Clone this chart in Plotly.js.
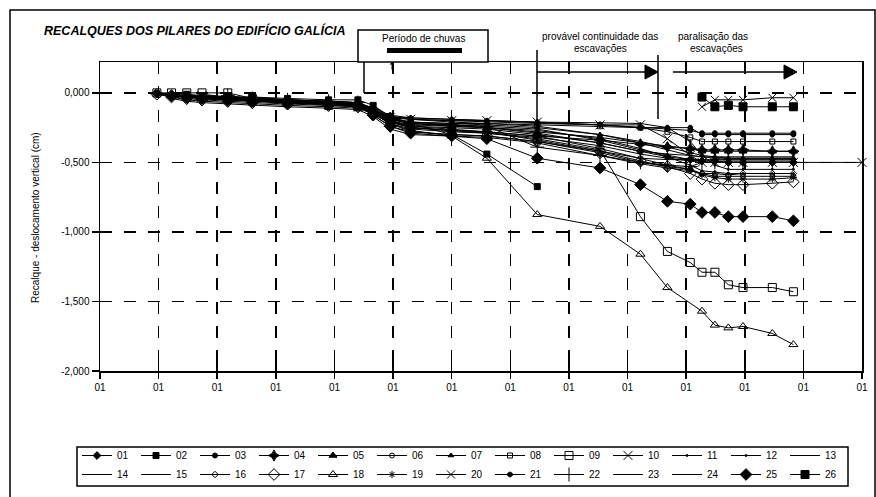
<!DOCTYPE html>
<html>
<head>
<meta charset="utf-8">
<script src="https://cdn.plot.ly/plotly-3.0.1.min.js"></script>
<style>html,body{margin:0;padding:0;background:#fff;}#chart{width:876px;height:497px;}</style>
</head>
<body>
<div id="chart"></div>
<script>
// ---- data (x = date position in months from axis start; y = settlement in cm) ----
const xDates = [0.97,1.22,1.48,1.74,2.18,2.6,3.2,3.9,4.4,4.66,4.95,5.3,6.0,6.6,7.46,8.53,9.22,9.68,10.07,10.27,10.49,10.72,10.97,11.47,11.83,13.0];
const xTickVals = [0,1,2,3,4,5,6,7,8,9,10,11,12,13];
const xTickText = ["01","01","01","01","01","01","01","01","01","01","01","01","01","01"];
const yTickVals = [0,-0.5,-1,-1.5,-2];
const yTickText = ["0,000","-0,500","-1,000","-1,500","-2,000"];
const seriesNames = ["01","02","03","04","05","06","07","08","09","10","11","12","13","14","15","16","17","18","19","20","21","22","23","24","25","26"];

const s01 = [-0.01,-0.02,-0.03,-0.03,-0.04,-0.05,-0.06,-0.07,-0.08,-0.14,-0.20,-0.24,-0.25,-0.26,-0.30,-0.36,-0.42,-0.46,-0.48,-0.49,-0.49,-0.50,-0.50,-0.50,-0.50,null];
const s02 = [null,null,-0.01,-0.02,-0.03,-0.03,-0.04,-0.05,-0.05,-0.09,-0.17,-0.22,-0.30,-0.44,-0.674,null,null,null,null,null,null,null,null,null,null,null];
const s03 = [0,-0.01,-0.02,-0.02,-0.03,-0.04,-0.05,-0.06,-0.07,-0.11,-0.17,-0.19,-0.20,-0.21,-0.22,-0.23,-0.25,-0.26,-0.27,-0.29,-0.29,-0.29,-0.29,-0.29,-0.29,null];
const s04 = [null,-0.02,-0.03,-0.04,-0.05,-0.06,-0.07,-0.08,-0.09,-0.15,-0.21,-0.25,-0.27,-0.28,-0.31,-0.34,-0.37,-0.39,-0.40,-0.41,-0.41,-0.41,-0.41,-0.42,-0.42,null];
const s05 = [null,null,-0.02,-0.03,-0.04,-0.05,-0.06,-0.07,-0.08,-0.13,-0.19,-0.22,-0.24,-0.25,-0.28,-0.32,-0.36,-0.38,-0.40,-0.42,-0.42,-0.42,-0.42,-0.42,-0.42,null];
const s06 = [null,-0.03,-0.05,-0.06,-0.07,-0.08,-0.09,-0.10,-0.11,-0.15,-0.22,-0.28,-0.30,-0.31,-0.35,-0.43,-0.50,-0.53,-0.55,-0.58,-0.60,-0.60,-0.60,-0.60,-0.60,null];
const s07 = [0,-0.01,-0.02,-0.03,-0.04,-0.05,-0.06,-0.07,-0.08,-0.12,-0.18,-0.21,-0.22,-0.23,-0.25,-0.30,-0.35,-0.39,-0.43,-0.45,-0.46,-0.47,-0.47,-0.47,-0.47,null];
const s08 = [0,-0.02,-0.03,-0.04,-0.05,-0.06,-0.07,-0.08,-0.09,-0.13,-0.19,-0.21,-0.22,-0.22,-0.23,-0.24,-0.25,-0.28,-0.32,-0.35,-0.35,-0.35,-0.35,-0.35,-0.35,null];
const s09 = [0,0,0,0,0,-0.04,-0.07,-0.09,-0.10,-0.14,-0.20,-0.25,-0.27,-0.29,-0.33,-0.41,-0.89,-1.14,-1.22,-1.29,-1.29,-1.38,-1.40,-1.40,-1.43,null];
const s10 = [null,null,null,-0.02,-0.04,-0.06,-0.07,-0.08,-0.10,-0.14,-0.18,-0.19,-0.20,-0.20,-0.21,-0.23,-0.23,-0.33,-0.45,-0.50,-0.50,-0.50,-0.50,-0.50,-0.50,-0.50];
const s11 = [-0.01,-0.02,-0.03,-0.04,-0.05,-0.06,-0.07,-0.08,-0.09,-0.13,-0.17,-0.18,-0.19,-0.20,-0.21,-0.215,-0.22,-0.25,-0.35,-0.45,-0.52,-0.55,-0.55,-0.55,-0.55,null];
const s12 = [null,-0.01,-0.02,-0.03,-0.04,-0.05,-0.06,-0.08,-0.09,-0.14,-0.20,-0.23,-0.24,-0.25,-0.27,-0.33,-0.40,-0.46,-0.52,-0.56,-0.57,-0.58,-0.58,-0.58,-0.58,null];
const s13 = [null,null,null,null,-0.03,-0.05,-0.06,-0.07,-0.08,-0.12,-0.17,-0.19,-0.21,-0.22,-0.24,-0.30,-0.36,-0.41,-0.45,-0.46,-0.47,-0.47,-0.47,-0.47,-0.47,null];
const s14 = [null,null,-0.02,-0.03,-0.04,-0.05,-0.06,-0.07,-0.09,-0.15,-0.22,-0.26,-0.28,-0.29,-0.32,-0.38,-0.44,-0.47,-0.49,-0.50,-0.50,-0.50,-0.50,-0.50,-0.50,null];
const s15 = [null,null,null,-0.02,-0.03,-0.05,-0.06,-0.07,-0.08,-0.13,-0.19,-0.22,-0.23,-0.24,-0.26,-0.34,-0.41,-0.45,-0.48,-0.49,-0.49,-0.49,-0.49,-0.49,-0.49,null];
const s16 = [null,-0.04,-0.06,-0.07,-0.08,-0.09,-0.10,-0.11,-0.12,-0.17,-0.26,-0.30,-0.31,-0.32,-0.36,-0.45,-0.51,-0.54,-0.56,-0.58,-0.58,-0.59,-0.58,-0.58,-0.58,null];
const s17 = [-0.01,-0.03,-0.04,-0.05,-0.06,-0.07,-0.08,-0.09,-0.10,-0.16,-0.24,-0.28,-0.30,-0.31,-0.35,-0.42,-0.49,-0.53,-0.58,-0.62,-0.65,-0.66,-0.66,-0.65,-0.64,null];
const s18 = [null,-0.02,-0.03,-0.04,-0.05,-0.06,-0.07,-0.08,-0.09,-0.15,-0.22,-0.27,-0.31,-0.47,-0.875,-0.96,-1.16,-1.40,null,-1.57,-1.67,-1.69,-1.68,-1.73,-1.81,null];
const s19 = [null,null,-0.02,-0.03,-0.04,-0.05,-0.06,-0.07,-0.08,-0.14,-0.21,-0.25,-0.27,-0.28,-0.31,-0.40,-0.47,-0.52,-0.55,-0.59,-0.61,-0.62,-0.62,-0.62,-0.61,null];
const s20 = [null,null,null,null,null,null,null,null,null,null,null,null,null,null,null,null,null,null,null,-0.10,-0.05,-0.05,-0.05,-0.035,-0.035,null];
const s21 = [0,-0.01,-0.02,-0.03,-0.04,-0.05,-0.05,-0.06,-0.07,-0.11,-0.16,-0.18,-0.19,-0.20,-0.21,-0.23,-0.25,-0.25,-0.25,-0.30,-0.30,-0.30,-0.30,-0.30,-0.30,null];
const s22 = [null,null,null,null,-0.02,-0.04,-0.05,-0.06,-0.07,-0.12,-0.19,-0.22,-0.23,-0.24,-0.39,-0.45,-0.50,-0.52,-0.53,-0.50,-0.50,-0.50,-0.50,-0.50,-0.50,null];
const s23 = [null,null,null,null,null,-0.03,-0.05,-0.06,-0.07,-0.12,-0.18,-0.21,-0.23,-0.25,-0.29,-0.36,-0.42,-0.44,-0.45,-0.46,-0.46,-0.46,-0.46,-0.46,-0.46,null];
const s24 = [null,null,null,-0.01,-0.03,-0.04,-0.06,-0.07,-0.08,-0.13,-0.20,-0.24,-0.26,-0.28,-0.34,-0.42,-0.47,-0.48,-0.48,-0.48,-0.48,-0.48,-0.48,-0.48,-0.48,null];
const s25 = [null,-0.02,-0.03,-0.04,-0.05,-0.06,-0.07,-0.08,-0.09,-0.16,-0.24,-0.29,-0.31,-0.33,-0.47,-0.54,-0.66,-0.78,-0.80,-0.86,-0.86,-0.89,-0.89,-0.89,-0.92,null];
const s26 = [null,null,null,null,null,null,null,null,null,null,null,null,null,null,null,null,null,null,null,-0.03,-0.10,-0.09,-0.10,-0.10,-0.10,null];

const seriesValues = [s01,s02,s03,s04,s05,s06,s07,s08,s09,s10,s11,s12,s13,s14,s15,s16,s17,s18,s19,s20,s21,s22,s23,s24,s25,s26];

// ---- styles ----
const markerStyles = [
  {symbol:'diamond', size:6},
  {symbol:'square', size:6},
  {symbol:'circle', size:5},
  {symbol:'star-diamond', size:8},
  {symbol:'triangle-up', size:7},
  {symbol:'circle-open', size:5},
  {symbol:'triangle-up', size:5},
  {symbol:'square-open', size:5},
  {symbol:'square-open', size:8},
  {symbol:'x-thin-open', size:9},
  {symbol:'circle', size:2},
  {symbol:'circle', size:2},
  null,
  null,
  null,
  {symbol:'diamond-open', size:5},
  {symbol:'diamond-open', size:9},
  {symbol:'triangle-up-open', size:8},
  {symbol:'asterisk-open', size:6},
  {symbol:'x-thin-open', size:8},
  {symbol:'octagon', size:5},
  {symbol:'cross-thin-open', size:10},
  null,
  null,
  {symbol:'diamond', size:9},
  {symbol:'square', size:8}
];

const X = px => (px - 100) / 762;
const Y = py => (371 - py) / 309;
const FONT = 'Liberation Sans, Arial, sans-serif';

const traces = seriesValues.map((vals, i) => {
  const ms = markerStyles[i];
  const t = {
    type:'scatter',
    x:xDates, y:vals,
    name:seriesNames[i],
    mode: ms ? 'lines+markers' : 'lines',
    connectgaps:true,
    line:{color:'#000', width:1},
    legend: i < 13 ? 'legend' : 'legend2',
    cliponaxis:false
  };
  if (ms) t.marker = {symbol:ms.symbol, size:ms.size, color:'#000', line:{color:'#000', width:1}};
  return t;
});
traces.push({type:'scatter', x:[], y:[], xaxis:'x2', yaxis:'y2', showlegend:false, hoverinfo:'skip'});

const shapes = [
  {type:'rect', xref:'paper', yref:'paper', x0:X(10), y0:Y(10), x1:X(875), y1:Y(505), line:{color:'#000', width:1.5}},
  {type:'rect', xref:'paper', yref:'paper', x0:X(358), y0:Y(30), x1:X(488), y1:Y(62), line:{color:'#000', width:1.5}, fillcolor:'#fff'},
  {type:'rect', xref:'paper', yref:'paper', x0:X(387), y0:Y(48), x1:X(462), y1:Y(53), line:{width:0}, fillcolor:'#000'},
  {type:'line', xref:'paper', yref:'paper', x0:X(364), y0:Y(62), x1:X(364), y1:Y(93), line:{color:'#000', width:1.5}},
  {type:'line', xref:'paper', yref:'paper', x0:X(537), y0:Y(50), x1:X(537), y1:Y(120), line:{color:'#000', width:1.5}},
  {type:'line', xref:'paper', yref:'paper', x0:X(658), y0:Y(55), x1:X(658), y1:Y(119), line:{color:'#000', width:1.5}},
  {type:'line', xref:'paper', yref:'paper', x0:X(537), y0:Y(72), x1:X(646), y1:Y(72), line:{color:'#000', width:1.5}},
  {type:'path', xref:'paper', yref:'paper', path:`M${X(645)},${Y(65)} L${X(658)},${Y(72)} L${X(645)},${Y(79)} Z`, fillcolor:'#000', line:{color:'#000', width:1}},
  {type:'line', xref:'paper', yref:'paper', x0:X(673), y0:Y(72), x1:X(785), y1:Y(72), line:{color:'#000', width:1.5}},
  {type:'path', xref:'paper', yref:'paper', path:`M${X(784)},${Y(65)} L${X(797)},${Y(72)} L${X(784)},${Y(79)} Z`, fillcolor:'#000', line:{color:'#000', width:1}},
  {type:'rect', xref:'paper', yref:'paper', x0:X(77), y0:Y(447), x1:X(848), y1:Y(486), line:{color:'#000', width:1.5}}
];

const txt = (x, y, text, size, anchor) => ({xref:'paper', yref:'paper', x:X(x), y:Y(y), text, showarrow:false, xanchor:anchor||'center', yanchor:'middle', font:{family:FONT, size:size, color:'#000'}});

const annotations = [
  txt(42, 31, '<b><i>RECALQUES DOS PILARES DO EDIFÍCIO GALÍCIA</i></b>', 12.5, 'left'),
  txt(423, 38, 'Período de chuvas', 10),
  txt(600, 37, 'provável continuidade das', 10),
  txt(600, 49, 'escavações', 10),
  txt(713, 37, 'paralisação das', 10),
  txt(716, 49, 'escavações', 10),
  {xref:'paper', yref:'paper', x:X(35), y:Y(218), text:'Recalque - deslocamento vertical (cm)', textangle:-90, showarrow:false, xanchor:'center', yanchor:'middle', font:{family:FONT, size:10, color:'#000'}},
  {xref:'paper', yref:'paper', x:X(392), y:Y(62), ax:0, ay:9, text:'', showarrow:true, arrowhead:1, arrowsize:0.8, arrowwidth:1, arrowcolor:'#000'}
];

const legendBase = {orientation:'h', xanchor:'left', yanchor:'top', bgcolor:'rgba(0,0,0,0)', borderwidth:0,
  font:{family:FONT, size:10, color:'#000'}, itemwidth:30, entrywidthmode:'pixels', entrywidth:14, tracegroupgap:0, itemclick:false};

const layout = {
  width:876, height:497,
  margin:{l:100, r:14, t:62, b:126, autoexpand:false},
  paper_bgcolor:'#fff', plot_bgcolor:'#fff',
  showlegend:true,
  font:{family:FONT, size:10, color:'#000'},
  xaxis:{range:[0,13], tickvals:xTickVals, ticktext:xTickText, ticks:'outside', ticklen:6, tickwidth:1.5, tickcolor:'#000',
    showline:true, linecolor:'#000', linewidth:1.5, mirror:true, showgrid:true, gridcolor:'#000', gridwidth:1.5, griddash:'12px,12px',
    zeroline:false, tickfont:{family:FONT, size:10, color:'#000'}, fixedrange:true},
  yaxis:{range:[-2,0.222], tickvals:yTickVals, ticktext:yTickText, ticks:'outside', ticklen:7, tickwidth:1.5, tickcolor:'#000',
    showline:true, linecolor:'#000', linewidth:1.5, mirror:true, showgrid:true, gridcolor:'#000', gridwidth:1.5, griddash:'12px,12px',
    zeroline:false, tickfont:{family:FONT, size:10, color:'#000'}, fixedrange:true},
  xaxis2:{overlaying:'x', anchor:'y', side:'bottom', range:[0,13], tickvals:xTickVals, ticks:'inside', ticklen:9, tickwidth:1.5, tickcolor:'#000', showticklabels:false, showgrid:false, showline:false, zeroline:false},
  yaxis2:{overlaying:'y', anchor:'x', side:'left', range:[-2,0.222], tickvals:yTickVals, ticks:'inside', ticklen:8, tickwidth:1.5, tickcolor:'#000', showticklabels:false, showgrid:false, showline:false, zeroline:false},
  legend:Object.assign({}, legendBase, {x:X(77), y:Y(441)}),
  legend2:Object.assign({}, legendBase, {x:X(77), y:Y(460)}),
  shapes, annotations
};

Plotly.newPlot('chart', traces, layout, {staticPlot:true, displayModeBar:false});
</script>
</body>
</html>
